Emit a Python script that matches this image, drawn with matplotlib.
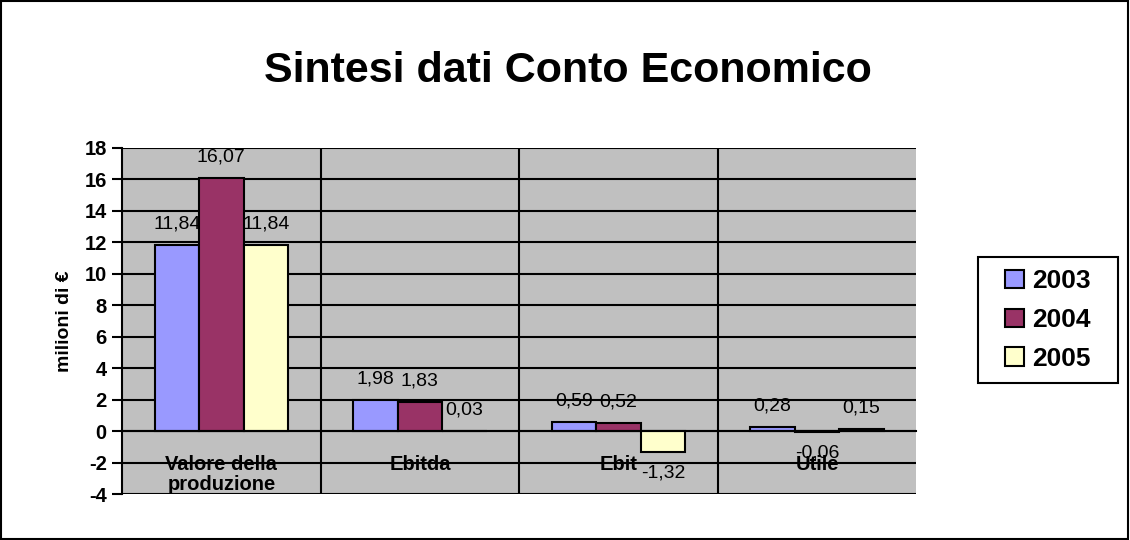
import numpy as np
import matplotlib
matplotlib.use('Agg')
import matplotlib.pyplot as plt
from matplotlib.patches import Rectangle

plt.rcParams['font.family'] = ['Liberation Sans', 'DejaVu Sans']

categories = ['Valore della\nproduzione', 'Ebitda', 'Ebit', 'Utile']
years = ['2003', '2004', '2005']
v2003 = [11.84, 1.98, 0.59, 0.28]
v2004 = [16.07, 1.83, 0.52, -0.06]
v2005 = [11.84, 0.03, -1.32, 0.15]
yticks = [-4, -2, 0, 2, 4, 6, 8, 10, 12, 14, 16, 18]

colors = ['#9999FF', '#993366', '#FFFFCC']

fig = plt.figure(figsize=(11.3, 5.4), dpi=100)
ax = fig.add_axes([0.108, 0.085, 0.703, 0.641])
ax.set_facecolor('#C0C0C0')

# x axis sits on the zero line (set first, it resets tick settings)
ax.spines['bottom'].set_position(('data', 0))
ax.spines['bottom'].set_linewidth(1.5)
ax.spines['bottom'].set_zorder(4)
ax.spines['left'].set_linewidth(1.5)
ax.spines['top'].set_visible(False)
ax.spines['right'].set_visible(False)

x = np.arange(len(categories))
bw = 0.224
for i, (vals, c, yr) in enumerate(zip([v2003, v2004, v2005], colors, years)):
    bars = ax.bar(x + (i - 1) * bw, vals, bw, color=c, edgecolor='black',
                  linewidth=1.5, label=yr, zorder=3)
    for b, v in zip(bars, vals):
        off = 9 if v >= 0 else -9
        ax.annotate(('%.2f' % v).replace('.', ','),
                    (b.get_x() + b.get_width() / 2, v),
                    xytext=(0, off), textcoords='offset points',
                    ha='center', va='bottom' if v >= 0 else 'top',
                    fontsize=14, zorder=5)

ax.set_ylim(-4, 18)
ax.set_xlim(-0.5, len(categories) - 0.5)
ax.set_yticks(yticks)
ax.set_yticklabels([str(t) for t in yticks], fontsize=14.5, fontweight='bold')
ax.tick_params(axis='y', length=7, width=1.5, pad=4)
ax.yaxis.grid(True, color='black', linewidth=1.5, zorder=1)
ax.set_axisbelow(True)

ax.set_xticks(x)
ax.set_xticklabels(categories, fontsize=14.5, fontweight='bold', linespacing=1.05)
ax.tick_params(axis='x', length=0, pad=17)
ax.set_xticks(np.arange(len(categories) - 1) + 0.5, minor=True)
ax.tick_params(axis='x', which='minor', length=0)
ax.xaxis.grid(True, which='minor', color='black', linewidth=1.5)

ax.set_ylabel('milioni di €', fontsize=14, fontweight='bold', labelpad=8)

fig.text(0.503, 0.868, 'Sintesi dati Conto Economico', ha='center', va='center',
         fontsize=31, fontweight='bold')

# legend box
lx, ly, lw, lh = 978 / 1130, 1 - 383 / 540, 140 / 1130, 126 / 540
fig.patches.append(Rectangle((lx, ly), lw, lh, transform=fig.transFigure,
                             fill=False, edgecolor='black', linewidth=1.5))
leg = fig.legend(loc='center', bbox_to_anchor=(lx + lw / 2, ly + lh / 2),
                 prop={'weight': 'bold', 'size': 19}, frameon=False,
                 handlelength=0.7, handleheight=0.7,
                 handletextpad=0.3, labelspacing=0.56, borderpad=0,
                 borderaxespad=0)

fig.patches.append(Rectangle((0.001, 0.002), 0.997, 0.996, transform=fig.transFigure,
                             fill=False, edgecolor='black', linewidth=1.5))

fig.savefig('out.png', dpi=100)
